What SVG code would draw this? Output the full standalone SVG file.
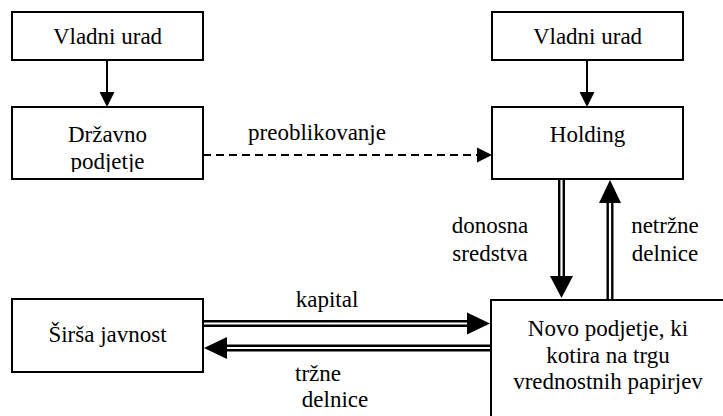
<svg xmlns="http://www.w3.org/2000/svg" width="723" height="416" viewBox="0 0 723 416" font-family="Liberation Serif, Tinos, Times New Roman, DejaVu Serif, serif">
<style>
.box{fill:#fff;stroke:#000;stroke-width:2}
text{font-family:"Liberation Serif",Tinos,"Times New Roman","DejaVu Serif",serif;font-size:23px;fill:#000;text-anchor:middle}
.ln{stroke:#000;stroke-width:2;fill:none}
.dbo{stroke:#000;stroke-width:7;fill:none}
.dbi{stroke:#fff;stroke-width:2.2;fill:none}
.ah{fill:#000}
</style>
<defs>
<clipPath id="c2"><rect x="13" y="108" width="189" height="64"/></clipPath>
</defs>
<rect width="723" height="416" fill="#fff"/>
<g id="connectors">
<line class="ln" x1="107" y1="60" x2="107" y2="93"/>
<polygon class="ah" points="99.5,92 114.5,92 107,107"/>
<line class="ln" x1="587" y1="60" x2="587" y2="93"/>
<polygon class="ah" points="579.5,92 594.5,92 587,107"/>
<line class="ln" x1="203" y1="155" x2="478" y2="155" stroke-dasharray="8,5"/>
<polygon class="ah" points="477,147.5 477,162.5 492,155"/>
<line class="dbo" x1="561.5" y1="179" x2="561.5" y2="278"/>
<line class="dbi" x1="561.5" y1="179" x2="561.5" y2="278"/>
<polygon class="ah" points="550,276 573,276 561.5,298"/>
<line class="dbo" x1="610" y1="202" x2="610" y2="300"/>
<line class="dbi" x1="610" y1="202" x2="610" y2="300"/>
<polygon class="ah" points="599,203 621,203 610,180"/>
<line class="dbo" x1="203" y1="323.5" x2="469" y2="323.5"/>
<line class="dbi" x1="203" y1="323.5" x2="469" y2="323.5"/>
<polygon class="ah" points="467,312.5 467,334.5 490,323.5"/>
<line class="dbo" x1="226" y1="348" x2="491" y2="348"/>
<line class="dbi" x1="226" y1="348" x2="491" y2="348"/>
<polygon class="ah" points="227,337 227,359 204,348"/>
<text x="317" y="140">preoblikovanje</text>
<text x="490" y="233">donosna</text>
<text x="490" y="261">sredstva</text>
<text x="665" y="233">netržne</text>
<text x="665" y="261">delnice</text>
<text x="327" y="307">kapital</text>
<text x="318" y="381">tržne</text>
<text x="335" y="407">delnice</text>
</g>
<g id="vladni1">
<rect class="box" x="12" y="12" width="191" height="48"/>
<text x="107.5" y="44">Vladni urad</text>
</g>
<g id="drzavno">
<rect class="box" x="12" y="107" width="191" height="72"/>
<g clip-path="url(#c2)">
<text x="107.5" y="142">Državno</text>
<text x="107.5" y="168.5">podjetje</text>
</g>
</g>
<g id="vladni2">
<rect class="box" x="492" y="12" width="191" height="48"/>
<text x="587.5" y="44">Vladni urad</text>
</g>
<g id="holding">
<rect class="box" x="492" y="107" width="191" height="72"/>
<text x="587.5" y="142">Holding</text>
</g>
<g id="javnost">
<rect class="box" x="12" y="299" width="191" height="73"/>
<text x="107.5" y="342">Širša javnost</text>
</g>
<g id="novo">
<rect class="box" x="491" y="300" width="250" height="130"/>
<text x="608" y="336">Novo podjetje, ki</text>
<text x="608" y="362.5">kotira na trgu</text>
<text x="608" y="389">vrednostnih papirjev</text>
</g>
</svg>
